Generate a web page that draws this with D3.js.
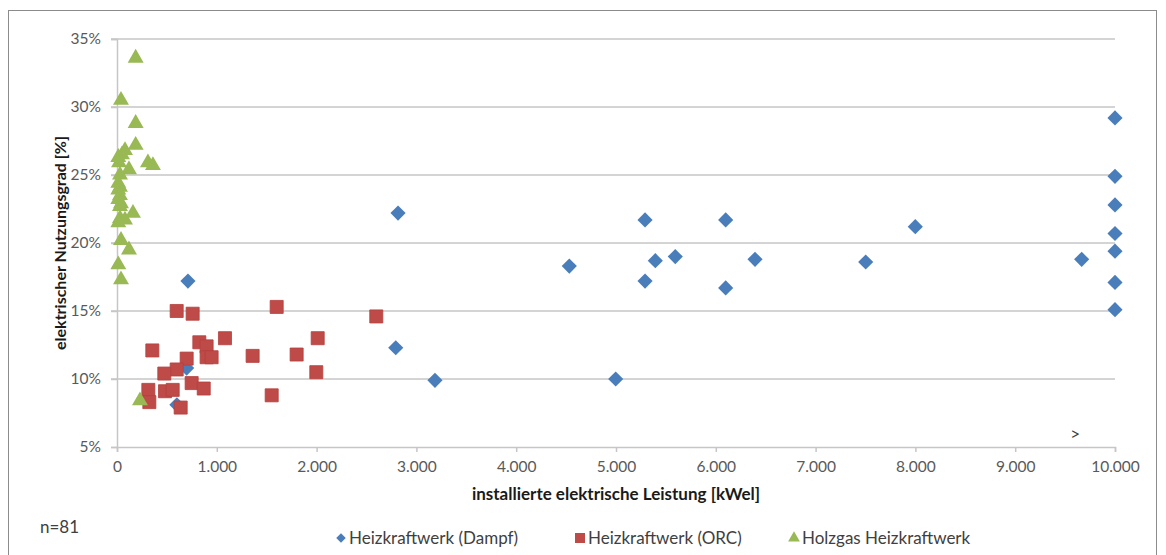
<!DOCTYPE html>
<html lang="de">
<head>
    <meta charset="UTF-8">
    <title>Elektrischer Nutzungsgrad</title>
    <script src="https://d3js.org/d3.v7.min.js"></script>
    <style>
        body { margin: 0; background: #fff; }
        svg text { font-family: Lato, "Open Sans", sans-serif; }
    </style>
</head>
<body>
<div id="chart"></div>
<script>
    // Heizkraftwerk (Dampf): [kWel, Nutzungsgrad]
    var dampf = [
        [711, 0.172], [698, 0.108], [600, 0.081],
        [2816, 0.222], [2793, 0.123], [3186, 0.099],
        [4532, 0.183], [4997, 0.100], [5291, 0.217], [5291, 0.172],
        [5394, 0.187], [5594, 0.190], [6099, 0.217], [6099, 0.167],
        [6393, 0.188], [7502, 0.186], [7999, 0.212], [9666, 0.188],
        [10000, 0.292], [10000, 0.249], [10000, 0.228], [10000, 0.207],
        [10000, 0.194], [10000, 0.171], [10000, 0.151]
    ];

    // Heizkraftwerk (ORC)
    var orc = [
        [598, 0.150], [758, 0.148], [1600, 0.153], [2598, 0.146],
        [1082, 0.130], [2011, 0.130], [354, 0.121], [825, 0.127],
        [898, 0.124], [898, 0.116], [948, 0.116], [1359, 0.117],
        [1800, 0.118], [698, 0.115], [598, 0.107], [474, 0.104],
        [1997, 0.105], [748, 0.097], [869, 0.093], [314, 0.092],
        [481, 0.091], [558, 0.092], [1550, 0.088], [324, 0.083],
        [638, 0.079]
    ];

    // Holzgas Heizkraftwerk
    var holzgas = [
        [187, 0.336], [40, 0.305], [187, 0.288], [187, 0.272],
        [80, 0.268], [50, 0.265], [13, 0.263], [20, 0.259],
        [310, 0.259], [360, 0.257], [120, 0.254], [30, 0.250],
        [13, 0.244], [30, 0.241], [13, 0.239], [30, 0.235],
        [13, 0.232], [40, 0.229], [30, 0.227], [160, 0.222],
        [30, 0.218], [80, 0.217], [13, 0.215], [40, 0.202],
        [120, 0.195], [13, 0.184], [40, 0.173], [230, 0.084]
    ];

    var xTicks = [0, 1000, 2000, 3000, 4000, 5000, 6000, 7000, 8000, 9000, 10000];
    var yTicks = [0.05, 0.10, 0.15, 0.20, 0.25, 0.30, 0.35];

    var W = 1166, H = 555;
    var svg = d3.select("#chart").append("svg")
        .attr("width", W)
        .attr("height", H);

    // chart frame
    svg.append("rect")
        .attr("x", 8.5).attr("y", 10.5)
        .attr("width", 1148).attr("height", 560)
        .attr("fill", "none")
        .attr("stroke", "#8c8c8c")
        .attr("stroke-width", 1);

    var x = d3.scaleLinear().domain([0, 10000]).range([117, 1115]);
    var y = d3.scaleLinear().domain([0.05, 0.35]).range([447, 39]);

    var fmtX = function (d) { return d3.format(",")(d).replace(/,/g, "."); };
    var fmtY = d3.format(".0%");

    // gridlines
    svg.append("g")
        .selectAll("line")
        .data(yTicks.slice(1))
        .join("line")
        .attr("x1", x(0) - 6).attr("x2", x(10000))
        .attr("y1", function (d) { return y(d); })
        .attr("y2", function (d) { return y(d); })
        .attr("stroke", "#c6c6c6")
        .attr("stroke-width", 1.5);

    // y axis
    var yAxis = svg.append("g")
        .attr("transform", "translate(" + x(0) + ",0)")
        .call(d3.axisLeft(y).tickValues(yTicks).tickFormat(fmtY).tickSize(6).tickPadding(10));
    yAxis.select(".domain").attr("stroke", "#c6c6c6").attr("stroke-width", 1.5);
    yAxis.selectAll(".tick line").attr("stroke", "#c6c6c6").attr("stroke-width", 1.5);
    yAxis.selectAll(".tick text")
        .attr("fill", "#595959")
        .style("font-size", "15.5px");

    // x axis
    var xAxis = svg.append("g")
        .attr("transform", "translate(0," + y(0.05) + ")")
        .call(d3.axisBottom(x).tickValues(xTicks).tickFormat(fmtX).tickSize(5).tickPadding(9));
    xAxis.select(".domain").attr("stroke", "#c6c6c6").attr("stroke-width", 1.5);
    xAxis.selectAll(".tick line").attr("stroke", "#c6c6c6").attr("stroke-width", 1.5);
    xAxis.selectAll(".tick text")
        .attr("fill", "#595959")
        .style("font-size", "15.5px");

    // ">" marker for values above 10.000
    svg.append("text")
        .attr("x", x(9600)).attr("y", 440)
        .attr("text-anchor", "middle")
        .attr("fill", "#404040")
        .style("font-size", "17px")
        .text(">");

    // axis titles
    svg.append("text")
        .attr("x", 616).attr("y", 500)
        .attr("text-anchor", "middle")
        .attr("fill", "#1a1a1a")
        .style("font-size", "17px")
        .style("font-weight", "bold")
        .text("installierte elektrische Leistung [kWel]");

    svg.append("text")
        .attr("transform", "translate(66,243) rotate(-90)")
        .attr("text-anchor", "middle")
        .attr("fill", "#1a1a1a")
        .style("font-size", "16px")
        .style("font-weight", "bold")
        .text("elektrischer Nutzungsgrad [%]");

    var blue = "#4a7ebb", red = "#be4b48", green = "#98b954";

    var diamond = d3.symbol().type(d3.symbolSquare).size(115);
    var square = d3.symbol().type(d3.symbolSquare).size(170);
    var triangle = d3.symbol().type(d3.symbolTriangle).size(110);

    svg.append("g").selectAll("path")
        .data(dampf)
        .join("path")
        .attr("d", diamond)
        .attr("transform", function (d) { return "translate(" + x(d[0]) + "," + y(d[1]) + ") rotate(45)"; })
        .attr("fill", blue);

    svg.append("g").selectAll("path")
        .data(orc)
        .join("path")
        .attr("d", square)
        .attr("transform", function (d) { return "translate(" + x(d[0]) + "," + y(d[1]) + ")"; })
        .attr("fill", red)
        .attr("stroke", "#b5403d")
        .attr("stroke-width", 0.8);

    svg.append("g").selectAll("path")
        .data(holzgas)
        .join("path")
        .attr("d", triangle)
        .attr("transform", function (d) { return "translate(" + x(d[0]) + "," + y(d[1]) + ")"; })
        .attr("fill", green);

    // legend
    var legend = [
        {name: "Heizkraftwerk (Dampf)", color: blue, sym: d3.symbol().type(d3.symbolSquare).size(45), rot: 45, lx: 341},
        {name: "Heizkraftwerk (ORC)", color: red, sym: d3.symbol().type(d3.symbolSquare).size(100), rot: 0, lx: 580},
        {name: "Holzgas Heizkraftwerk", color: green, sym: d3.symbol().type(d3.symbolTriangle).size(60), rot: 0, lx: 794}
    ];
    var lg = svg.append("g").selectAll("g")
        .data(legend)
        .join("g")
        .attr("transform", function (d) { return "translate(" + d.lx + ",538)"; });
    lg.append("path")
        .attr("d", function (d) { return d.sym(); })
        .attr("transform", function (d) { return "rotate(" + d.rot + ")"; })
        .attr("fill", function (d) { return d.color; });
    lg.append("text")
        .attr("x", 8).attr("y", 6)
        .attr("fill", "#404040")
        .style("font-size", "17px")
        .text(function (d) { return d.name; });

    svg.append("text")
        .attr("x", 40).attr("y", 533)
        .attr("fill", "#404040")
        .style("font-size", "17px")
        .text("n=81");
</script>
</body>
</html>
